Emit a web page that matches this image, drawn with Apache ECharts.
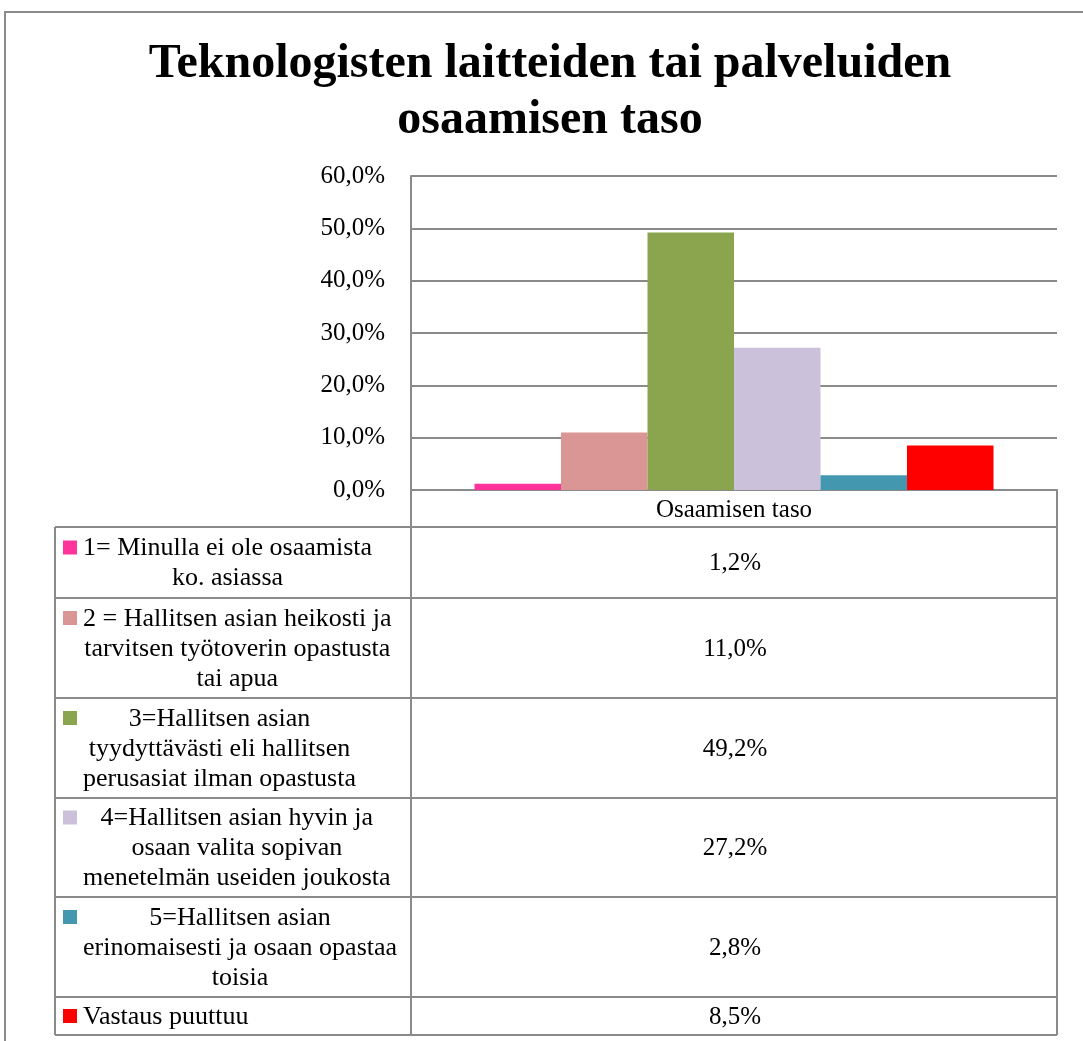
<!DOCTYPE html>
<html>
<head>
<meta charset="utf-8">
<script src="https://cdn.jsdelivr.net/npm/echarts@6/dist/echarts.min.js"></script>
<style>
html,body{margin:0;padding:0;background:#fff}
#chart{width:1083px;height:1041px}
</style>
</head>
<body>
<div id="chart"></div>
<script>
// data
var categories = ['Osaamisen taso'];
var seriesNames = [
	'1= Minulla ei ole osaamista\nko. asiassa',
	'2 = Hallitsen asian heikosti ja\ntarvitsen työtoverin opastusta\ntai apua',
	'3=Hallitsen asian\ntyydyttävästi eli hallitsen\nperusasiat ilman opastusta',
	'4=Hallitsen asian hyvin ja\nosaan valita sopivan\nmenetelmän useiden joukosta',
	'5=Hallitsen asian\nerinomaisesti ja osaan opastaa\ntoisia',
	'Vastaus puuttuu'
];
var values = [1.2, 11.0, 49.2, 27.2, 2.8, 8.5];
var yTicks = [0, 10, 20, 30, 40, 50, 60];
var colors = ['#FF3399', '#D99694', '#8BA54F', '#CCC1DA', '#4398B0', '#FF0000'];

var FONT = '"Liberation Serif", "Times New Roman", serif';
var GRID_COLOR = '#8a8a8a';

// layout of the data table under the plot
var plotLeft = 411, plotRight = 1057, plotTop = 176, plotBottom = 490;
var tableLeft = 55, headerBottom = 527;
var rowHeights = [71, 100, 100, 99, 100, 38];
var lineH = 30;
var cellFont = '26px ' + FONT;

function fmt(v) {
	return v.toFixed(1).replace('.', ',') + '%';
}

var measureCtx = document.createElement('canvas').getContext('2d');
measureCtx.font = cellFont;
function textWidth(s) {
	var w = 0;
	s.split('\n').forEach(function (l) { w = Math.max(w, measureCtx.measureText(l).width); });
	return w;
}

function buildTable() {
	var g = [];
	var ln = function (x1, y1, x2, y2) {
		g.push({ type: 'line', silent: true, z: 10,
			shape: { x1: x1, y1: y1, x2: x2, y2: y2 },
			style: { stroke: GRID_COLOR, lineWidth: 2 } });
	};
	// outer chart border
	g.push({ type: 'rect', silent: true, z: 0,
		shape: { x: 5, y: 12, width: 1200, height: 1200 },
		style: { fill: 'none', stroke: GRID_COLOR, lineWidth: 2 } });

	var y = headerBottom;
	ln(tableLeft, y, plotRight, y);
	for (var i = 0; i < seriesNames.length; i++) {
		var h = rowHeights[i];
		var cy = y + h / 2;
		var nLines = seriesNames[i].split('\n').length;
		var firstLineY = cy - (nLines - 1) * lineH / 2;
		// legend key
		g.push({ type: 'rect', silent: true, z: 10,
			shape: { x: 63, y: firstLineY - 7, width: 14, height: 14 },
			style: { fill: colors[i] } });
		var w = textWidth(seriesNames[i]);
		g.push({ type: 'text', silent: true, z: 10,
			style: { text: seriesNames[i], x: 83 + w / 2, y: cy + 1,
				align: 'center', verticalAlign: 'middle',
				font: cellFont, lineHeight: lineH, fill: '#000' } });
		g.push({ type: 'text', silent: true, z: 10,
			style: { text: fmt(values[i]), x: (plotLeft + plotRight) / 2 + 1, y: cy + 1,
				align: 'center', verticalAlign: 'middle',
				font: '25px ' + FONT, fill: '#000' } });
		y += h;
		ln(tableLeft, y, plotRight, y);
	}
	ln(tableLeft, headerBottom, tableLeft, y);
	ln(plotLeft, plotBottom, plotLeft, y);
	ln(plotRight, plotBottom, plotRight, y);
	return g;
}

var chart = echarts.init(document.getElementById('chart'));
var option = {
	animation: false,
	backgroundColor: '#fff',
	title: {
		text: 'Teknologisten laitteiden tai palveluiden\nosaamisen taso',
		left: 545,
		top: 32,
		textAlign: 'center',
		textStyle: {
			fontFamily: FONT,
			fontWeight: 'bold',
			fontSize: 48,
			lineHeight: 56,
			color: '#000'
		}
	},
	grid: {
		left: plotLeft,
		right: 1083 - plotRight,
		top: plotTop,
		bottom: 1041 - plotBottom,
		containLabel: false
	},
	xAxis: {
		type: 'category',
		data: categories,
		axisLine: { show: true, lineStyle: { color: GRID_COLOR, width: 2 } },
		axisTick: { show: false },
		axisLabel: { margin: 8, fontFamily: FONT, fontSize: 25, color: '#000' }
	},
	yAxis: {
		type: 'value',
		min: yTicks[0],
		max: yTicks[yTicks.length - 1],
		interval: yTicks[1] - yTicks[0],
		axisLine: { show: true, lineStyle: { color: GRID_COLOR, width: 2 } },
		axisTick: { show: false },
		splitLine: { show: true, lineStyle: { color: GRID_COLOR, width: 2 } },
		axisLabel: { margin: 26, fontFamily: FONT, fontSize: 25, color: '#000',
			formatter: function (v) { return fmt(v); } }
	},
	series: seriesNames.map(function (n, i) {
		return {
			name: n,
			type: 'bar',
			data: [values[i]],
			barWidth: 86.5,
			barGap: '0%',
			itemStyle: { color: colors[i] }
		};
	}),
	graphic: buildTable()
};
chart.setOption(option);
</script>
</body>
</html>
